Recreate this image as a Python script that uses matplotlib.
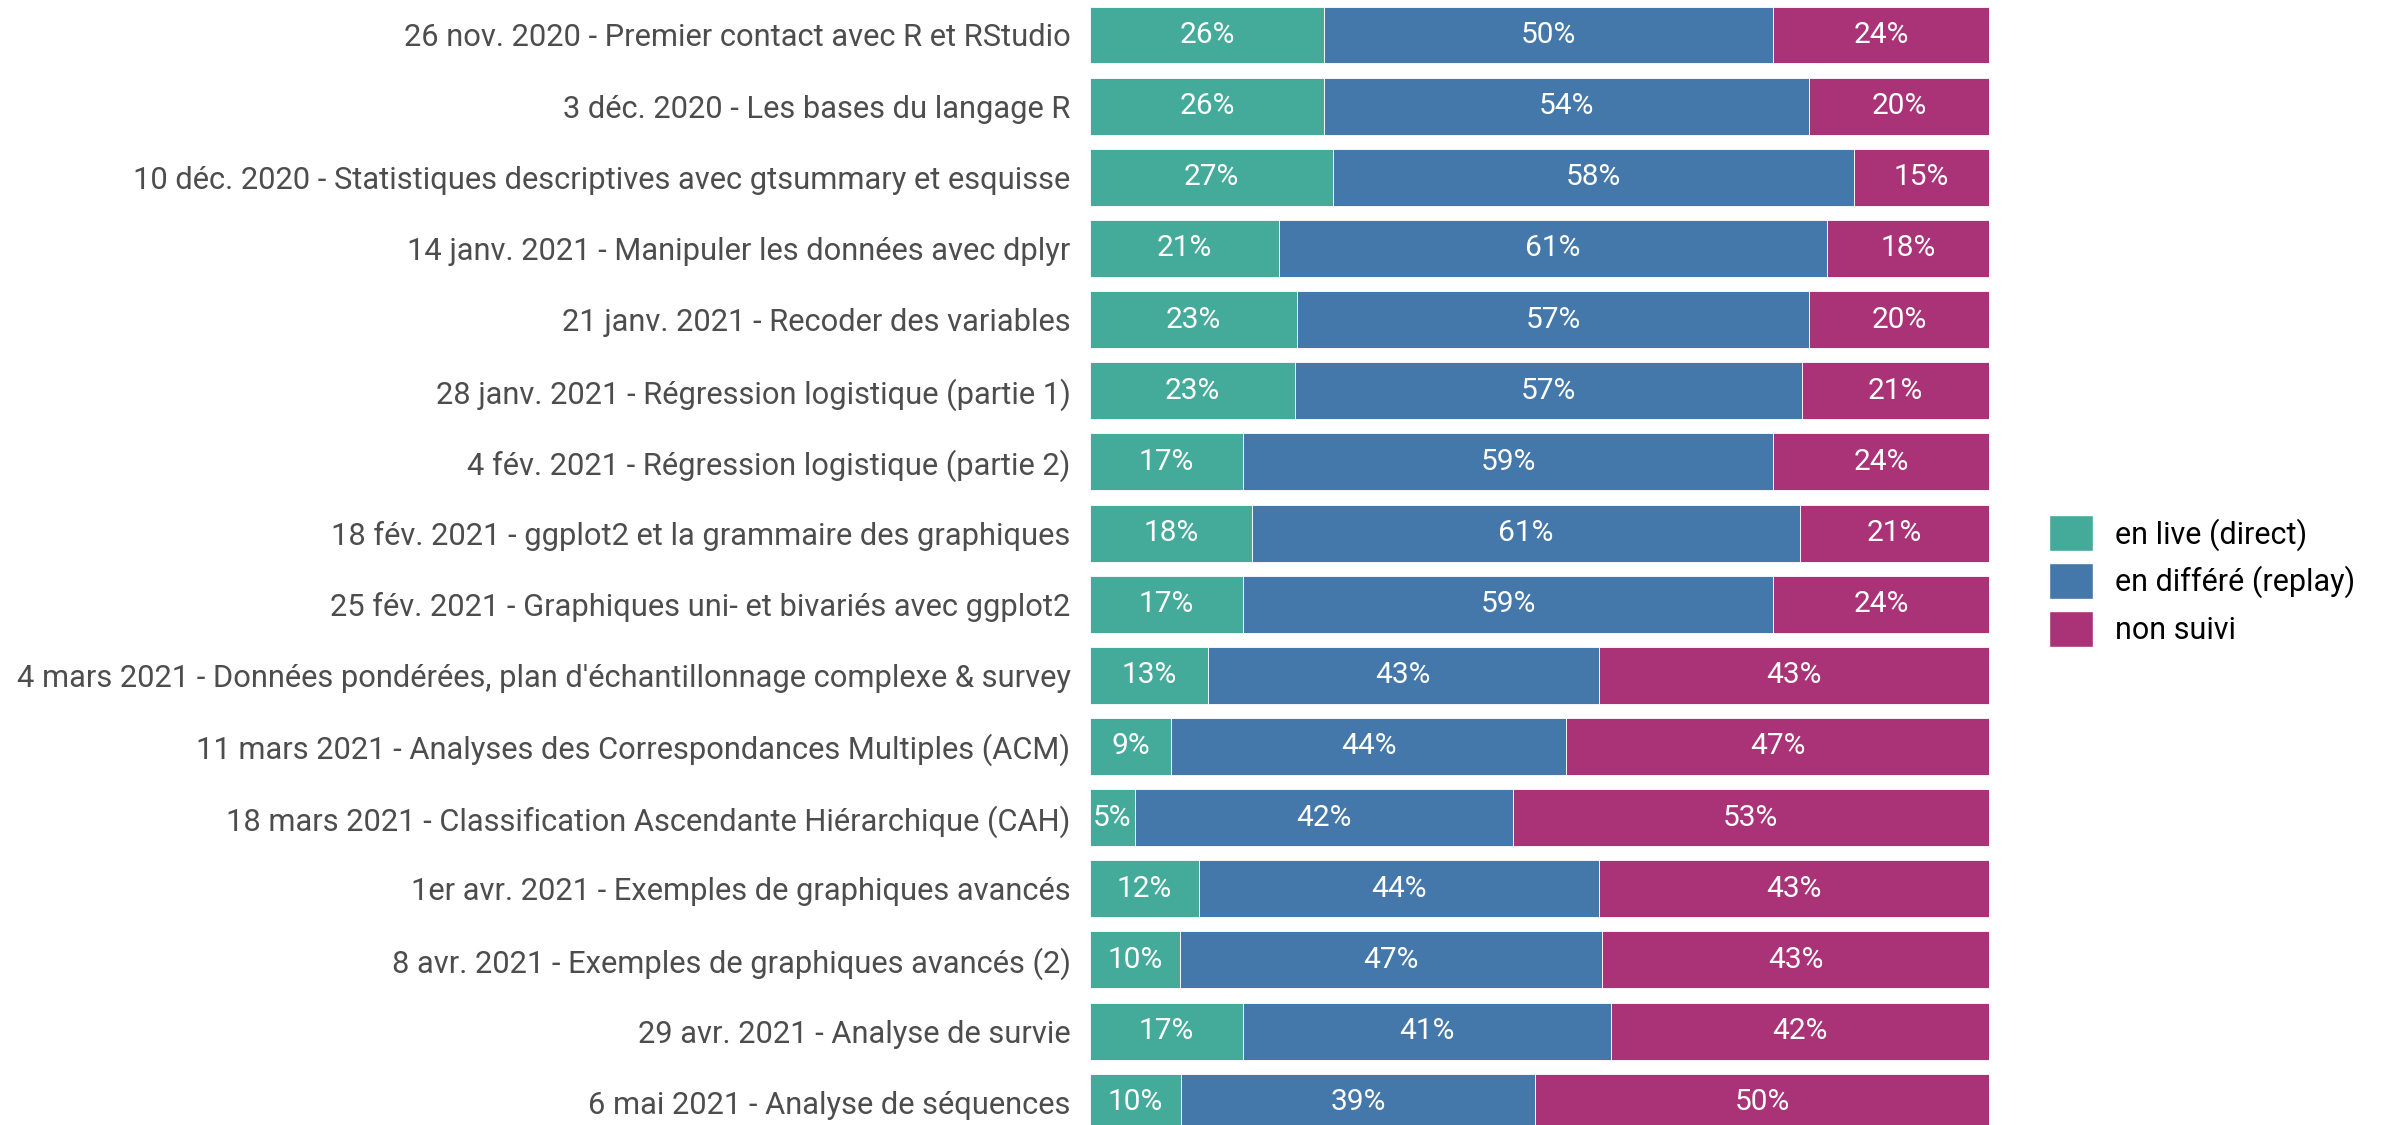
import numpy as np
import matplotlib
matplotlib.use("Agg")
import matplotlib.pyplot as plt
from matplotlib.patches import Patch

plt.rcParams['font.family'] = ['Roboto', 'DejaVu Sans']

# Sessions (top to bottom)
sessions = [
    "26 nov. 2020 - Premier contact avec R et RStudio",
    "3 déc. 2020 - Les bases du langage R",
    "10 déc. 2020 - Statistiques descriptives avec gtsummary et esquisse",
    "14 janv. 2021 - Manipuler les données avec dplyr",
    "21 janv. 2021 - Recoder des variables",
    "28 janv. 2021 - Régression logistique (partie 1)",
    "4 fév. 2021 - Régression logistique (partie 2)",
    "18 fév. 2021 - ggplot2 et la grammaire des graphiques",
    "25 fév. 2021 - Graphiques uni- et bivariés avec ggplot2",
    "4 mars 2021 - Données pondérées, plan d'échantillonnage complexe & survey",
    "11 mars 2021 - Analyses des Correspondances Multiples (ACM)",
    "18 mars 2021 - Classification Ascendante Hiérarchique (CAH)",
    "1er avr. 2021 - Exemples de graphiques avancés",
    "8 avr. 2021 - Exemples de graphiques avancés (2)",
    "29 avr. 2021 - Analyse de survie",
    "6 mai 2021 - Analyse de séquences",
]

# percentages per category
live = [26, 26, 27, 21, 23, 23, 17, 18, 17, 13, 9, 5, 12, 10, 17, 10]
replay = [50, 54, 58, 61, 57, 57, 59, 61, 59, 43, 44, 42, 44, 47, 41, 39]
non_suivi = [24, 20, 15, 18, 20, 21, 24, 21, 24, 43, 47, 53, 43, 43, 42, 50]

categories = ["en live (direct)", "en différé (replay)", "non suivi"]
colors = ["#44AA99", "#4477AA", "#AA3377"]

W, H = 2384, 1125
fig = plt.figure(figsize=(W / 100, H / 100), dpi=100)
ax = fig.add_axes([1090 / W, 0, (1989 - 1090) / W, 1])

vals = np.array([live, replay, non_suivi], dtype=float)
props = vals / vals.sum(axis=0)
y = np.arange(len(sessions))
left = np.zeros(len(sessions))
for k in range(3):
    ax.barh(y, props[k], left=left, height=0.8, color=colors[k],
            edgecolor="white", linewidth=0.6)
    for i in range(len(sessions)):
        ax.text(left[i] + props[k][i] / 2, y[i], f"{int(vals[k][i])}%",
                ha="center", va="center", color="white", fontsize=21.5)
    left += props[k]

row_h = 71.15
ax.set_xlim(0, 1)
ax.set_ylim((H - 35) / row_h, -35 / row_h)
ax.set_yticks(y)
ax.set_yticklabels(sessions, fontsize=22.2, color="#4D4D4D")
ax.tick_params(axis="y", length=0, pad=14)
ax.set_xticks([])
for s in ax.spines.values():
    s.set_visible(False)

handles = [Patch(facecolor=c, edgecolor="white", label=l) for c, l in zip(colors, categories)]
fig.legend(handles=handles, loc="center left", bbox_to_anchor=(2049 / W, 1 - 581 / H),
           frameon=False, fontsize=22, handlelength=1.44, handleheight=1.44,
           labelspacing=0.38, handletextpad=0.72, borderaxespad=0, borderpad=0)

fig.savefig("out.png", dpi=100)
